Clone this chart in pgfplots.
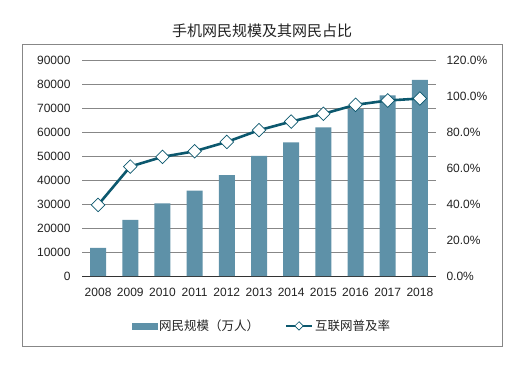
\documentclass[border=0pt]{standalone}
\usepackage{fontspec}
\setmainfont{Liberation Sans}
\newfontfamily\cjk{Noto Sans CJK SC}
\usepackage{pgfplots}
\pgfplotsset{compat=1.18}
\definecolor{barcol}{HTML}{5E91A8}
\definecolor{linecol}{HTML}{0C586E}
\definecolor{gridcol}{HTML}{878787}
\definecolor{txtcol}{HTML}{222222}
\begin{document}
\begin{tikzpicture}[x=1pt,y=1pt]
\path (0,0) rectangle (522,-366);
\draw[gridcol, line width=1pt] (22,-45) rectangle (502,-346);
\node[font=\cjk\fontsize{15}{18}\selectfont, text=txtcol] at (262,-31) {手机网民规模及其网民占比};
\begin{axis}[
  at={(82pt,-276pt)}, anchor=south west,
  width=354pt, height=216pt, scale only axis,
  xmin=2007.5, xmax=2018.5, ymin=0, ymax=90000,
  axis x line*=bottom, axis y line*=left,
  y axis line style={draw=none},
  x axis line style={black!80, line width=1pt},
  ytick={0,10000,...,90000},
  xtick={2008,...,2018},
  ymajorgrids, grid style={gridcol, line width=0.8pt},
  major tick length=0pt, tick style={draw=none},
  scaled y ticks=false,
  /pgf/number format/1000 sep={},
  /pgf/number format/assume math mode=true,
  tick label style={font=\fontsize{12}{14}\selectfont, text=txtcol},
  xticklabel style={yshift=-9pt},
  yticklabel style={xshift=-8pt},
]
\addplot[ybar, bar width=16pt, fill=barcol, draw=none] coordinates {
 (2008,11760) (2009,23344) (2010,30274) (2011,35558) (2012,41997) (2013,50006)
 (2014,55678) (2015,61981) (2016,69531) (2017,75265) (2018,81698)};
\end{axis}
\begin{axis}[
  at={(82pt,-276pt)}, anchor=south west,
  width=354pt, height=216pt, scale only axis,
  xmin=2007.5, xmax=2018.5, ymin=0, ymax=120,
  axis x line=none, axis y line*=right,
  y axis line style={draw=none},
  ytick={0,20,...,120},
  major tick length=0pt, tick style={draw=none},
  /pgf/number format/assume math mode=true,
  yticklabel={\pgfmathprintnumber[fixed, fixed zerofill, precision=1]{\tick}\%},
  tick label style={font=\fontsize{12}{14}\selectfont, text=txtcol},
  yticklabel style={xshift=7pt},
  legend columns=2,
  legend style={at={(0.508,-0.231)}, anchor=center, draw=none, fill=none,
    font=\cjk\fontsize{12.5}{15}\selectfont, text=txtcol,
    /tikz/every even column/.append style={column sep=24pt}},
]
\addlegendimage{legend image code/.code={\fill[barcol] (0pt,-3pt) rectangle (25pt,3pt);}}
\addlegendentry{网民规模（万人）}
\addlegendimage{legend image code/.code={
  \draw[linecol, line width=2pt] (0pt,0pt) -- (26pt,0pt);
  \draw[linecol, fill=white, line width=0.6pt, rotate around={45:(13pt,0pt)}] (10pt,-3pt) rectangle (16pt,3pt);}}
\addlegendentry{互联网普及率}
\addplot[linecol, line width=2.6pt, mark=square*, mark size=4.8pt,
  mark options={rotate=45, fill=white, draw=linecol, line width=0.7pt}] coordinates {
 (2008,39.5) (2009,60.8) (2010,66.2) (2011,69.3) (2012,74.5) (2013,81.0)
 (2014,85.8) (2015,90.1) (2016,95.1) (2017,97.5) (2018,98.6)};
\end{axis}
\end{tikzpicture}
\end{document}
